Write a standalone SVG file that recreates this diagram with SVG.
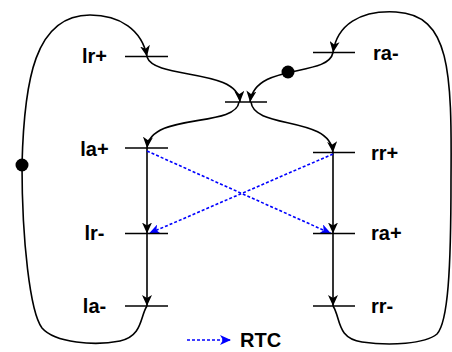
<svg xmlns="http://www.w3.org/2000/svg" width="452" height="352" viewBox="0 0 452 352">
<style>
.bar{stroke:#000;stroke-width:1.6;fill:none}
.e{stroke:#000;stroke-width:1.6;fill:none;marker-end:url(#ah)}
.rtc{stroke:#0000ff;stroke-width:1.6;fill:none;stroke-dasharray:3 2;marker-end:url(#bh)}
.lbl{font-family:"Liberation Sans",Arial,Helvetica,sans-serif;font-weight:bold;font-size:20px;fill:#000}
.dot{fill:#000}
</style>
<defs>
<marker id="ah" viewBox="0 0 11 10" refX="11" refY="5" markerWidth="11" markerHeight="10" markerUnits="userSpaceOnUse" orient="auto">
<path d="M0,0 L11,5 L0,10 L3,5 z" fill="#000"/>
</marker>
<marker id="bh" viewBox="0 0 11 10" refX="11" refY="5" markerWidth="11" markerHeight="10" markerUnits="userSpaceOnUse" orient="auto">
<path d="M0,0 L11,5 L0,10 L3,5 z" fill="#0000ff"/>
</marker>
</defs>
<rect width="452" height="352" fill="#fff"/>
<g id="connectors">
<path class="e" d="M147,57 C155,80 238,68 240,102"/>
<path class="e" d="M333,52.5 C328,78 255,62 250,102"/>
<path class="e" d="M239,102 C236,128 150,112 147,148"/>
<path class="e" d="M251,102 C254,130 330,115 333,152.5"/>
<path class="e" d="M147,148 L147,233.5"/>
<path class="e" d="M147,233.5 L147,306"/>
<path class="e" d="M333,152.5 L333,233.5"/>
<path class="e" d="M333,233.5 L333,306"/>
<path class="e" d="M147,306 C140,316 143,336 120,341 C95,346 55,343 42,328 C30,312 22,240 22,165 C24,80 35,15 90,15 C120,15 142,30 147,56.5"/>
<path class="e" d="M333,306 C341,318 336,338 362,342 C390,346 425,344 437,334 C448,322 451,270 451,180 C452,70 450,15 396,12 C360,10 337,25 333,52.5"/>
<circle class="dot" cx="22" cy="165" r="6.5"/>
<circle class="dot" cx="288" cy="72" r="6.5"/>
<path class="rtc" d="M147,151 L331,233.5"/>
<path class="rtc" d="M333,154 L149,233.5"/>
</g>
<g id="lr_plus"><line class="bar" x1="125" y1="56.5" x2="168" y2="56.5"/><text class="lbl" x="94.5" y="63.3" text-anchor="middle">lr+</text></g>
<g id="ra_minus"><line class="bar" x1="313" y1="52.5" x2="355" y2="52.5"/><text class="lbl" x="373" y="59.5">ra-</text></g>
<g id="center"><line class="bar" x1="225" y1="102" x2="267" y2="102"/></g>
<g id="la_plus"><line class="bar" x1="125" y1="148" x2="168" y2="148"/><text class="lbl" x="94.5" y="156" text-anchor="middle">la+</text></g>
<g id="rr_plus"><line class="bar" x1="313" y1="152.5" x2="355" y2="152.5"/><text class="lbl" x="371" y="159.5">rr+</text></g>
<g id="lr_minus"><line class="bar" x1="125" y1="233.5" x2="168" y2="233.5"/><text class="lbl" x="94.5" y="240.3" text-anchor="middle">lr-</text></g>
<g id="ra_plus"><line class="bar" x1="313" y1="233.5" x2="355" y2="233.5"/><text class="lbl" x="371" y="240.3">ra+</text></g>
<g id="la_minus"><line class="bar" x1="125" y1="306" x2="168" y2="306"/><text class="lbl" x="94.5" y="312.7" text-anchor="middle">la-</text></g>
<g id="rr_minus"><line class="bar" x1="313" y1="306" x2="355" y2="306"/><text class="lbl" x="371" y="312.7">rr-</text></g>
<g id="legend"><path class="rtc" d="M187,340 L231,340"/><text class="lbl" x="240" y="347">RTC</text></g>
</svg>
